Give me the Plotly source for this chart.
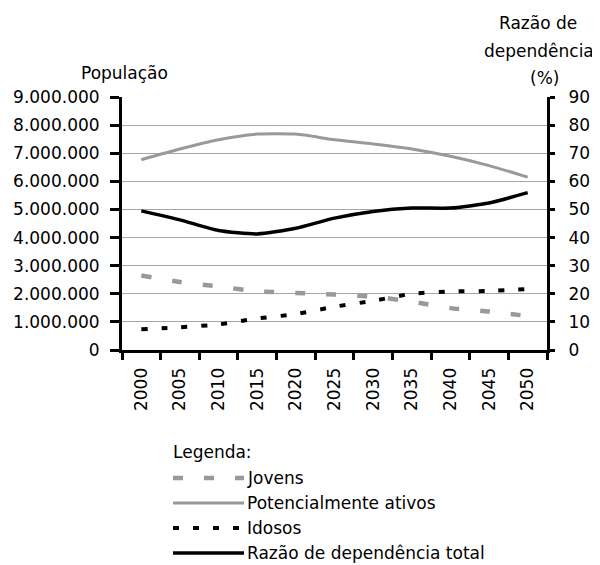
import plotly.graph_objects as go

years = ["2000", "2005", "2010", "2015", "2020", "2025", "2030", "2035", "2040", "2045", "2050"]
jovens = [2650000, 2420000, 2260000, 2090000, 2030000, 1970000, 1900000, 1720000, 1490000, 1370000, 1210000]
ativos = [6770000, 7150000, 7480000, 7680000, 7680000, 7480000, 7330000, 7150000, 6890000, 6560000, 6150000]
idosos = [740000, 810000, 910000, 1120000, 1280000, 1540000, 1750000, 2000000, 2080000, 2100000, 2170000]
razao = [49.5, 46.3, 42.5, 41.3, 43.3, 46.9, 49.3, 50.5, 50.5, 52.3, 56.0]

pop_ticks = [0, 1000000, 2000000, 3000000, 4000000, 5000000, 6000000, 7000000, 8000000, 9000000]
pop_labels = ["0", "1.000.000", "2.000.000", "3.000.000", "4.000.000", "5.000.000",
              "6.000.000", "7.000.000", "8.000.000", "9.000.000"]

GRAY = "#999999"
FONT = dict(family="DejaVu Sans, sans-serif", size=17, color="black")

# the page has an 8px body margin, so work in window pixels and shift
OFF = 8
W, H = 600 - OFF, 565 - OFF
L, R, T, B = 122 - OFF, 547 - OFF, 97 - OFF, 350 - OFF


def px(x):
    return (x - OFF - L) / (R - L)


def py(y):
    return (B - (y - OFF)) / (B - T)


fig = go.Figure()
fig.add_trace(go.Scatter(x=years, y=jovens, mode="lines", name="Jovens",
                         line=dict(color=GRAY, width=4.5, dash="10px,21px", shape="spline", smoothing=0.6)))
fig.add_trace(go.Scatter(x=years, y=ativos, mode="lines", name="Potencialmente ativos",
                         line=dict(color=GRAY, width=3, shape="spline", smoothing=0.6)))
fig.add_trace(go.Scatter(x=years, y=idosos, mode="lines", name="Idosos",
                         line=dict(color="black", width=4, dash="6px,14px", shape="spline", smoothing=0.6)))
fig.add_trace(go.Scatter(x=years, y=razao, mode="lines", name="Razão de dependência total", yaxis="y2",
                         line=dict(color="black", width=3.5, shape="spline", smoothing=0.6)))

fig.update_layout(
    width=W, height=H,
    margin=dict(l=L, r=W - R, t=T, b=H - B),
    paper_bgcolor="white", plot_bgcolor="white",
    font=FONT,
    showlegend=False,
    xaxis=dict(type="category", range=[-0.5, 10.5], tickson="boundaries", ticks="outside",
               ticklen=7, tickwidth=2.5, tickcolor="black", showline=True, linecolor="black",
               linewidth=3, showgrid=False, tickangle=-90, ticklabelstandoff=8, automargin=False),
    yaxis=dict(range=[0, 9000000], tickvals=pop_ticks, ticktext=pop_labels, ticks="outside",
               ticklen=9, tickwidth=2.5, tickcolor="black", showline=True, linecolor="black",
               linewidth=3, showgrid=True, gridcolor="#a6a6a6", gridwidth=1, zeroline=False,
               ticklabelstandoff=7, automargin=False),
    yaxis2=dict(range=[0, 90], dtick=10, overlaying="y", side="right", ticks="outside",
                ticklen=5, tickwidth=2.5, tickcolor="black", showline=True, linecolor="black",
                linewidth=3, showgrid=False, zeroline=False, ticklabelstandoff=10, automargin=False),
)

ann = [
    dict(text="População", x=px(124), y=py(73)),
    dict(text="Razão de", x=px(538), y=py(23)),
    dict(text="dependência", x=px(539), y=py(51)),
    dict(text="(%)", x=px(544), y=py(78)),
]
for a in ann:
    fig.add_annotation(xref="paper", yref="paper", showarrow=False, xanchor="center",
                       yanchor="middle", font=FONT, **a)

# legend drawn by hand (long line samples)
fig.add_annotation(xref="paper", yref="paper", showarrow=False, xanchor="left", yanchor="middle",
                   text="Legenda:", x=px(171), y=py(452), font=FONT)
legend_rows = [
    ("Jovens", GRAY, 4.5, "10px,21px", 478),
    ("Potencialmente ativos", GRAY, 3, "solid", 503),
    ("Idosos", "black", 4, "6px,14px", 528),
    ("Razão de dependência total", "black", 3.5, "solid", 553),
]
for name, color, width, dash, y in legend_rows:
    fig.add_shape(type="line", xref="paper", yref="paper", x0=px(173), x1=px(244), y0=py(y), y1=py(y),
                  line=dict(color=color, width=width, dash=dash))
    fig.add_annotation(xref="paper", yref="paper", showarrow=False, xanchor="left", yanchor="middle",
                       text=name, x=px(245), y=py(y), font=FONT)

fig.write_html("out.html")
